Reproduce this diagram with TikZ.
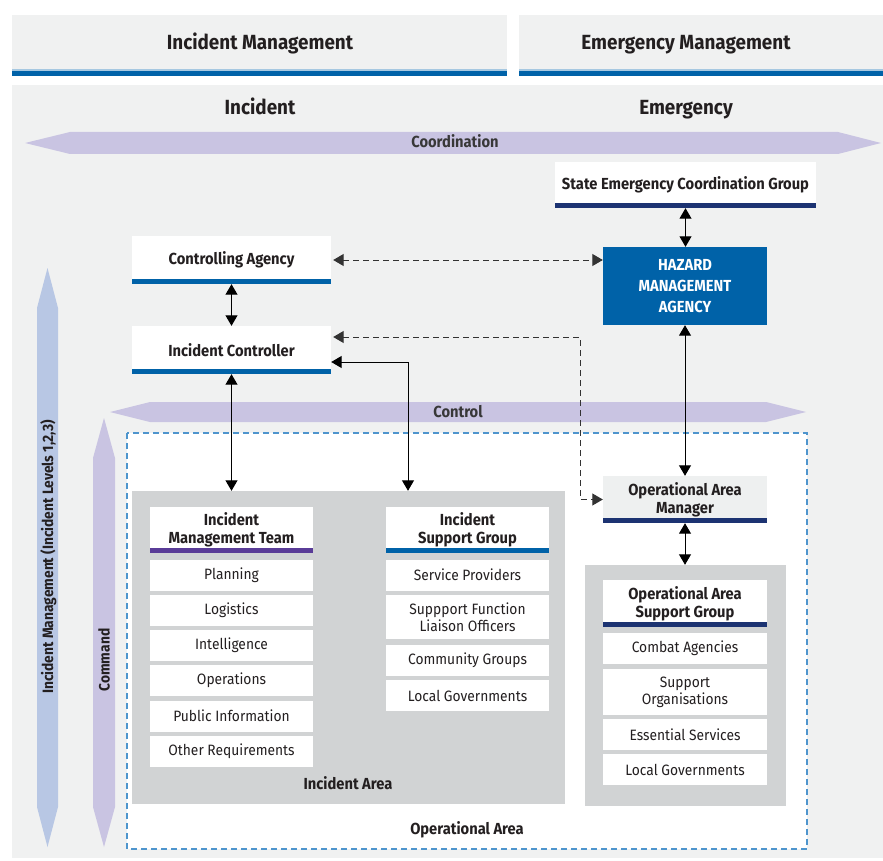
\documentclass[tikz,border=0pt]{standalone}
\usepackage{fontspec}
\setmainfont{Fira Sans}[FakeStretch=0.92]
\usetikzlibrary{arrows.meta,positioning}
\definecolor{panel}{HTML}{F0F1F1}
\definecolor{mblue}{HTML}{0062A8}
\definecolor{navy}{HTML}{1C3372}
\definecolor{mpurple}{HTML}{5A3C98}
\definecolor{lav}{HTML}{C9C4E2}
\definecolor{lblue}{HTML}{B8C7E4}
\definecolor{areagray}{HTML}{D1D3D4}
\definecolor{oadash}{HTML}{4E95CD}
\definecolor{txt}{HTML}{231F20}
\definecolor{bandtxt}{HTML}{383838}
\definecolor{oamfill}{HTML}{EEF0F0}
\begin{document}
\begin{tikzpicture}[x=1pt,y=-1pt,
    every node/.style={inner sep=0pt, align=center, text=txt},
    big/.style={font=\bfseries\fontsize{20.5}{24}\selectfont, text height=14pt, text depth=0pt},
    band/.style={font=\bfseries\fontsize{16}{19}\selectfont, text=bandtxt, text height=11pt, text depth=0pt},
    box/.style={fill=white, font=\bfseries\fontsize{16}{18}\selectfont},
    bar/.style={path picture={\fill[#1] ([yshift=5pt]path picture bounding box.south west)
        rectangle (path picture bounding box.south east);}},
    item/.style={fill=white, minimum width=163pt, minimum height=31pt,
        font=\fontsize{15}{17}\selectfont},
    link/.style={{Triangle[length=10.5pt,width=12pt]}-{Triangle[length=10.5pt,width=12pt]},
        line width=1pt, draw=black},
    dlink/.style={link, draw=black!80, dash pattern=on 6pt off 4pt}]
    \useasboundingbox (0,0) rectangle (883,861);
    % panels
    \fill[panel] (12,15) rectangle (507,70);
    \fill[mblue!35] (12,69) rectangle (507,71);
    \fill[mblue] (12,71) rectangle (507,76);
    \fill[panel] (519,15) rectangle (883,70);
    \fill[mblue!35] (519,69) rectangle (883,71);
    \fill[mblue] (519,71) rectangle (883,76);
    \fill[panel] (12,85) rectangle (883,858);
    \node[big] (imhead) at (260,42.5) {Incident Management};
    \node[big] (emhead) at (686,42.5) {Emergency Management};
    \node[big] (inchead) at (260,107.5) {Incident};
    \node[big] (emghead) at (686,107.5) {Emergency};
    % bands
    \fill[lav] (25,143) -- (70,132) -- (838,132) -- (881,143) -- (838,154) -- (70,154) -- cycle;
    \node[band] (coordlbl) at (455,142.5) {Coordination};
    \fill[lblue] (47.5,268) -- (58,308) -- (58,807) -- (47.5,847) -- (37,807) -- (37,308) -- cycle;
    \node[band, text=txt, font=\bfseries\fontsize{15}{17}\selectfont, rotate=90] (imlbl) at (47.5,557)
        {Incident Management (Incident Levels 1,2,3)};
    % operational area
    \draw[oadash, fill=white, line width=1.2pt, dash pattern=on 6pt off 4pt]
        (127,433) rectangle (807,849);
    \node[band, text=txt] (oplbl) at (467,829) {Operational Area};
    \fill[lav] (110,412) -- (150,402) -- (766,402) -- (806,412) -- (766,422) -- (150,422) -- cycle;
    \node[band] (ctrllbl) at (458,411.5) {Control};
    \fill[lav] (104,418) -- (115,458) -- (115,807) -- (104,847) -- (93,807) -- (93,458) -- cycle;
    \node[band, text=txt, font=\bfseries\fontsize{15}{17}\selectfont, rotate=90] (cmdlbl) at (104,660) {Command};
    % command chain
    \node[box, bar=navy, minimum width=261pt, minimum height=46pt] (secg) at (685.5,185)
        {State Emergency Coordination Group};
    \node[box, bar=mblue, minimum width=199pt, minimum height=48pt] (ca) at (231.5,260)
        {Controlling Agency};
    \node[box, bar=mblue, minimum width=199pt, minimum height=48pt] (ic) at (231.5,350)
        {Incident Controller};
    \node[fill=mblue, minimum width=164pt, minimum height=78pt, text=white,
        font=\bfseries\fontsize{16}{21}\selectfont] (hma) at (685,286)
        {HAZARD\\MANAGEMENT\\AGENCY};
    \node[box, fill=oamfill, bar=navy, minimum width=164pt, minimum height=47pt] (oam)
        at (685,499.5) {Operational Area\\Manager};
    % incident area
    \node[fill=areagray, minimum width=433pt, minimum height=313pt] (incarea) at (348.5,647.5) {};
    \node[band, text=txt] (incarealbl) at (348,783.5) {Incident Area};
    \node[box, bar=mpurple, minimum width=163pt, minimum height=46pt] (imt) at (231.5,530)
        {Incident\\Management Team};
    \node[item] (plan) at (231.5,575) {Planning};
    \node[item] (logi) at (231.5,610) {Logistics};
    \node[item] (intel) at (231.5,645) {Intelligence};
    \node[item] (ops) at (231.5,680.5) {Operations};
    \node[item] (pubinfo) at (231.5,716) {Public Information};
    \node[item] (otherreq) at (231.5,751) {Other Requirements};
    \node[box, bar=mblue, minimum width=163pt, minimum height=46pt] (isg) at (467.5,530)
        {Incident\\Support Group};
    \node[item] (servprov) at (467.5,575) {Service Providers};
    \node[item, minimum height=44pt] (liaison) at (467.5,617) {Suppport Function\\Liaison Officers};
    \node[item] (commgrp) at (467.5,660.5) {Community Groups};
    \node[item] (localgov) at (467.5,695.5) {Local Governments};
    % operational area support group
    \node[fill=areagray, minimum width=201pt, minimum height=241pt] (oasarea) at (685.5,685.5) {};
    \node[box, bar=navy, minimum width=164pt, minimum height=47pt] (oasg) at (685,603.5)
        {Operational Area\\Support Group};
    \node[item, minimum width=164pt] (combat) at (685,648.5) {Combat Agencies};
    \node[item, minimum width=164pt, minimum height=46pt] (supporg) at (685,692) {Support\\Organisations};
    \node[item, minimum width=164pt] (essserv) at (685,734.5) {Essential Services};
    \node[item, minimum width=164pt] (oalocgov) at (685,769.5) {Local Governments};
    % connectors
    \coordinate (dashx) at (580,0);
    \coordinate (solidx) at (408,0);
    \draw[link] (ca.south) -- (ic.north);
    \draw[link] (secg.south) -- (secg.south |- hma.north);
    \draw[link] (hma.south) -- (oam.north);
    \draw[link] (oam.south) -- (oam.south |- oasarea.north);
    \draw[link] (ic.south) -- (ic.south |- incarea.north);
    \draw[link] ([yshift=-12pt]ic.east) -| (solidx |- incarea.north);
    \draw[dlink] ([xshift=2pt]ca.east) -- (ca.east -| hma.west);
    \draw[dlink] ([xshift=2pt,yshift=13pt]ic.east) -| (dashx |- oam.west) -- (oam.west);
\end{tikzpicture}
\end{document}
